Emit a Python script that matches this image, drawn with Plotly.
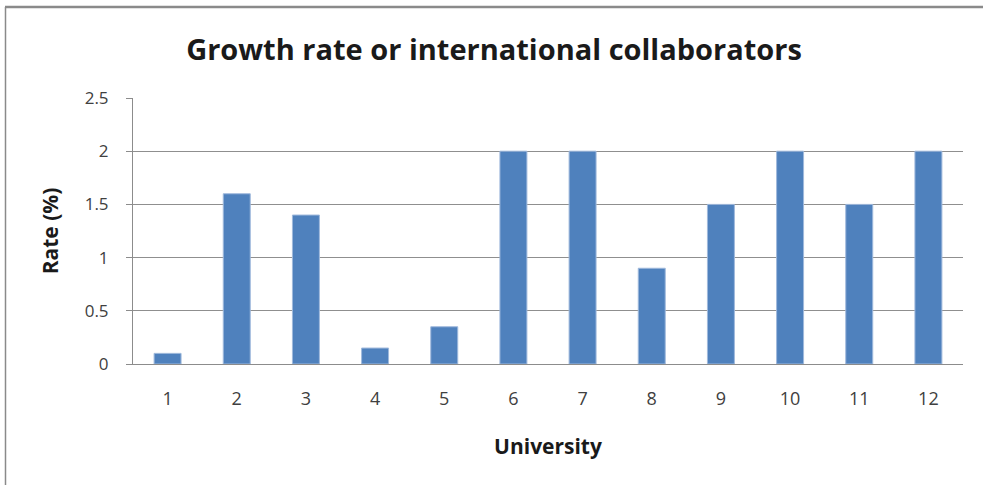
import plotly.graph_objects as go

universities = ["1", "2", "3", "4", "5", "6", "7", "8", "9", "10", "11", "12"]
rates = [0.1, 1.6, 1.4, 0.15, 0.35, 2.0, 2.0, 0.9, 1.5, 2.0, 1.5, 2.0]
y_ticks = [0, 0.5, 1, 1.5, 2, 2.5]
y_tick_labels = ["0", "0.5", "1", "1.5", "2", "2.5"]

FONT = "Open Sans"
W, H = 983, 485
L, R, T, B = 133, 20, 98, 121
pw, ph = W - L - R, H - T - B

fig = go.Figure(
    go.Bar(
        x=universities,
        y=rates,
        marker=dict(color="#4f81bd", line=dict(color="#9fb9dc", width=1)),
    )
)

fig.update_layout(
    width=W,
    height=H,
    margin=dict(l=L, r=R, t=T, b=B, pad=0),
    paper_bgcolor="white",
    plot_bgcolor="white",
    bargap=0.61,
    showlegend=False,
    title=dict(
        text="<b>Growth rate or international collaborators</b>",
        x=494 / W,
        xanchor="center",
        y=1 - 50 / H,
        yanchor="middle",
        font=dict(family=FONT, size=29, color="#1a1a1a"),
    ),
    xaxis=dict(
        type="category",
        showline=True,
        linecolor="#8c8c8c",
        linewidth=1,
        showgrid=False,
        ticks="",
        ticklabelstandoff=18,
        tickfont=dict(family=FONT, size=18, color="#404040"),
        title=dict(
            text="<b>University</b>",
            font=dict(family=FONT, size=21, color="#1a1a1a"),
            standoff=30,
        ),
    ),
    yaxis=dict(
        range=[0, 2.5],
        tickvals=y_ticks,
        ticktext=y_tick_labels,
        showline=True,
        linecolor="#8c8c8c",
        linewidth=1,
        showgrid=True,
        gridcolor="#8f8f8f",
        gridwidth=1,
        zeroline=False,
        ticks="outside",
        ticklen=6,
        tickcolor="#8c8c8c",
        ticklabelstandoff=14,
        tickfont=dict(family=FONT, size=17, color="#404040"),
        title=dict(
            text="<b>Rate (%)</b>",
            font=dict(family=FONT, size=21, color="#1a1a1a"),
            standoff=20,
        ),
    ),
    shapes=[
        dict(
            type="line", xref="paper", yref="paper",
            x0=(5 - L) / pw, x1=(W - L) / pw,
            y0=1 + (T - 7) / ph, y1=1 + (T - 7) / ph,
            line=dict(color="#8a8a8a", width=2.5),
        ),
        dict(
            type="line", xref="paper", yref="paper",
            x0=(5.5 - L) / pw, x1=(5.5 - L) / pw,
            y0=1 + (T - 7) / ph, y1=-(H - T - ph) / ph - 0.01,
            line=dict(color="#8a8a8a", width=1.5),
        ),
    ],
)

fig.write_html(
    "out.html",
    config={"displayModeBar": False},
    post_script="document.body.style.margin='0';document.body.style.overflow='hidden';",
)
